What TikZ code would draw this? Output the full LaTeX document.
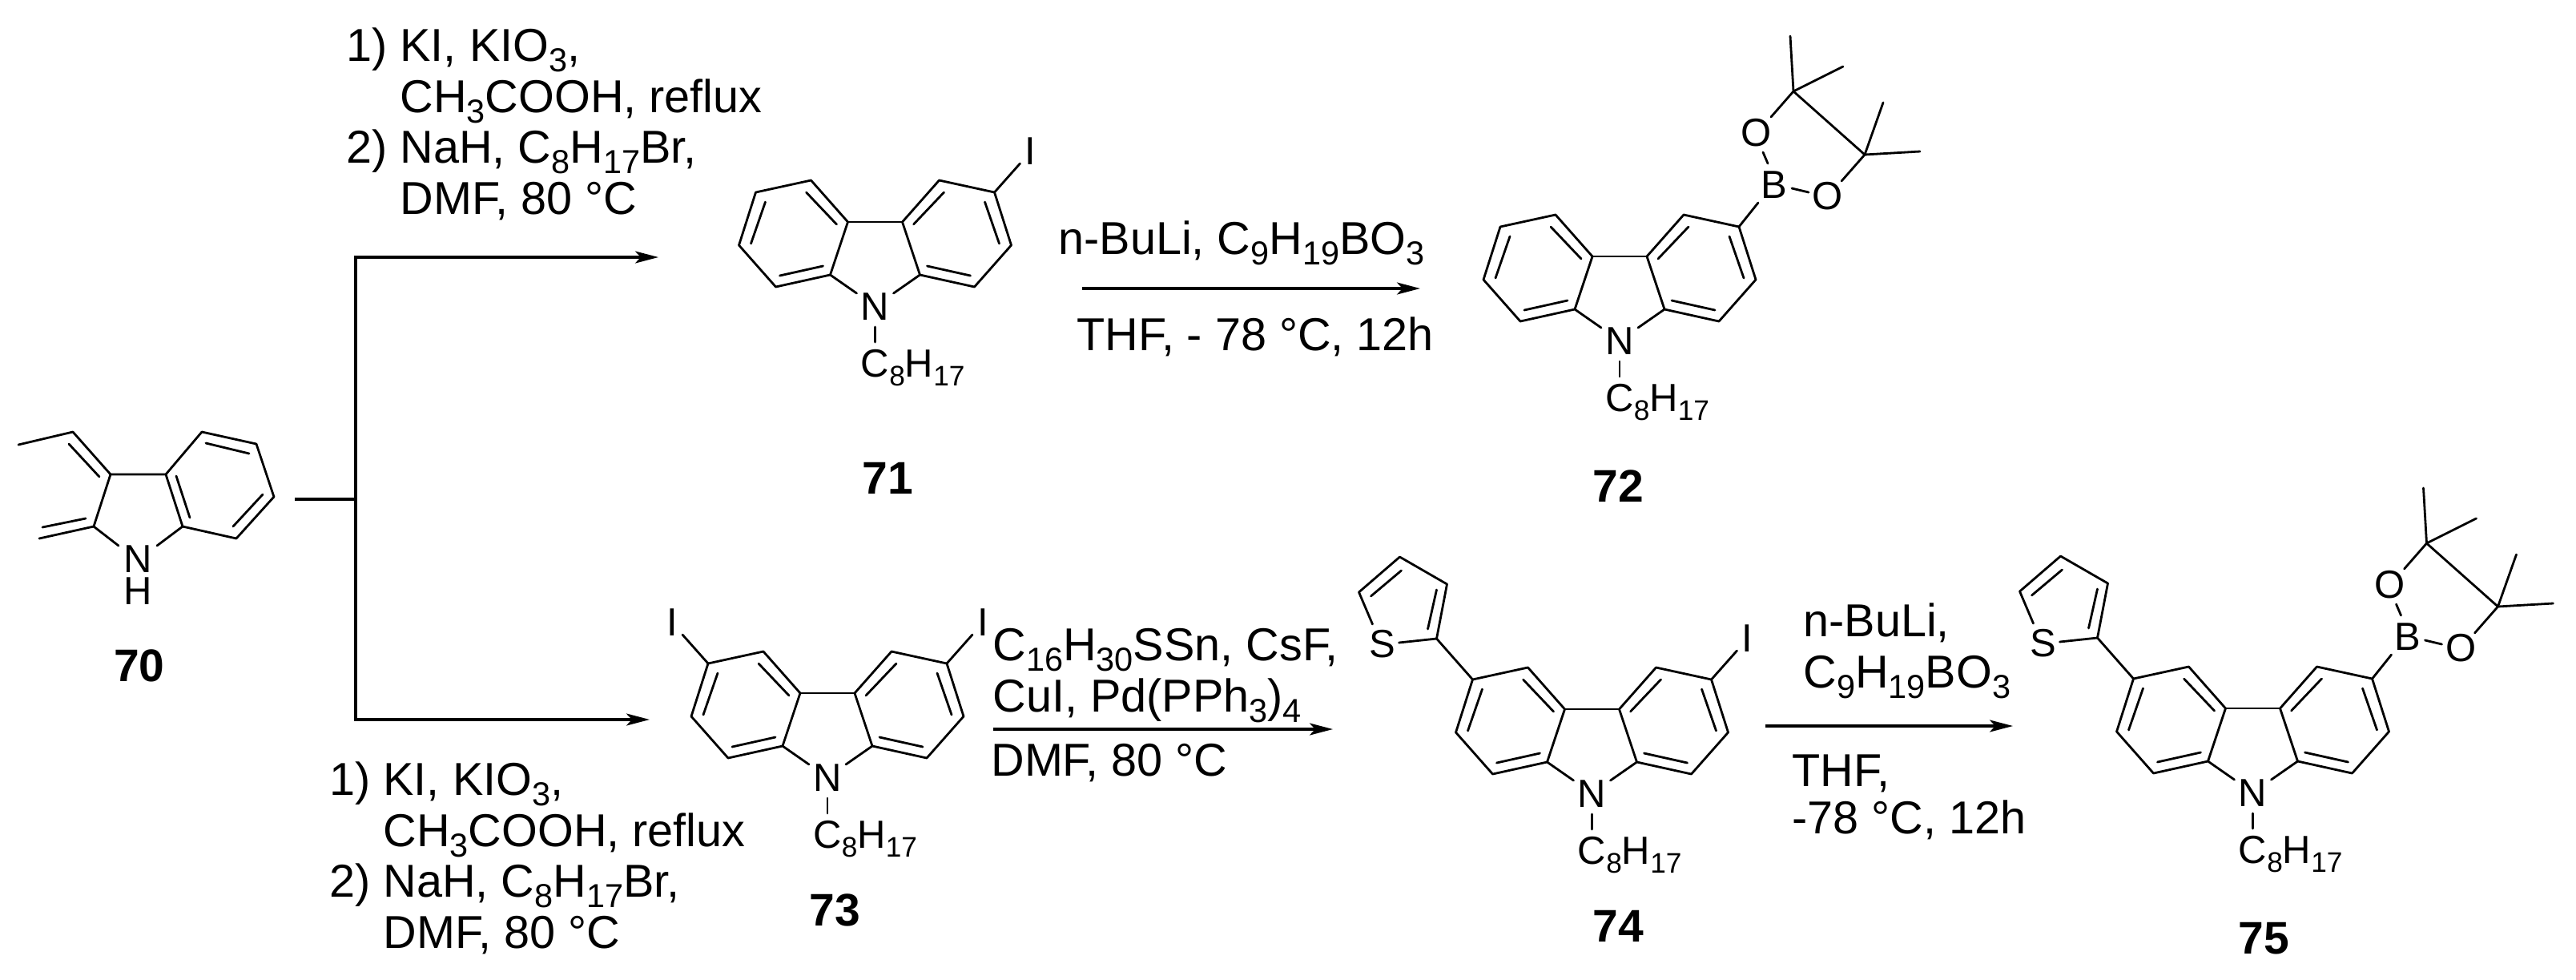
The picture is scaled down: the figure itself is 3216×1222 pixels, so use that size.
\documentclass[tikz,border=0pt]{standalone}
\usepackage{fontspec}
\usepackage{graphicx}
\setmainfont{Liberation Sans}
\usetikzlibrary{arrows.meta}
\newcommand{\chsub}[1]{\raisebox{-.23em}{\scalebox{.72}{#1}}}
\newcommand{\iodosteps}{1) KI, KIO\chsub{3},\\\hspace*{1.167em}CH\chsub{3}COOH, reflux\\2) NaH, C\chsub{8}H\chsub{17}Br,\\\hspace*{1.167em}DMF, 80 °C}
\tikzset{
  bond/.style={line width=1.4pt,line cap=round,line join=round},
  rxnline/.style={line width=1.7pt,>={Stealth[length=14.5pt,width=7.5pt,inset=3.5pt]}},
  atom/.style={inner sep=0pt,font=\fontsize{24.5}{20}\selectfont},
  reagent/.style={inner sep=0pt,anchor=base west,align=left,font=\fontsize{28.8}{31.75}\selectfont},
  cmpd/.style={inner sep=0pt,anchor=base,font=\fontsize{28.5}{32}\selectfont\bfseries}
}
% carbazole core with its octyl chain, origin at the middle of the 5-ring top bond
\newcommand{\carbazole}[1]{
  \foreach \s in {-1,1}{
    \draw[bond] (\s*23,89) -- (\s*56,66) -- (\s*34,0) -- (\s*80,-52) -- (\s*149,-37) -- (\s*170,29) -- (\s*124,81) -- (\s*56,66);
    \draw[bond] (\s*86,-37) -- (\s*48,3);
    \draw[bond] (\s*137,-25) -- (\s*155,27);
    \draw[bond] (\s*119,67) -- (\s*65,55);
  }
  \draw[bond] (-34,0) -- (34,0);
  \draw[bond] (0,131) -- (0,150);
  \node[atom] (N#1) at (0,106) {N};
  \node[atom,anchor=base west] (R#1) at (-18,193) {C\chsub{8}H\chsub{17}};
}
\newcommand{\iodo}[2]{
  \draw[bond] (#1*149,-37) -- (#1*181,-73);
  \node[atom] (I#2) at (#1*194,-88) {I};
}
\newcommand{\pinacol}[1]{
  \draw[bond] (149,-37) -- (173,-67);
  \node[atom] (B#1) at (193,-89) {B};
  \node[atom] (Oa#1) at (171,-154) {O};
  \node[atom] (Ob#1) at (260,-75) {O};
  \draw[bond] (185,-116) -- (179,-130);
  \draw[bond] (215,-85) -- (236,-80);
  \draw[bond] (189,-174) -- (217,-206) -- (306,-127) -- (277,-94);
  \draw[bond] (217,-206) -- (213,-275);
  \draw[bond] (217,-206) -- (279,-237);
  \draw[bond] (306,-127) -- (329,-192);
  \draw[bond] (306,-127) -- (375,-131);
}
\newcommand{\thienyl}[1]{
  \draw[bond] (-149,-37) -- (-194,-88);
  \begin{scope}[shift={(-194,-88)}]
    \draw[bond] (-47,5) -- (0,0) -- (13,-68) -- (-46,-102) -- (-97,-58) -- (-80,-18);
    \draw[bond] (0,-61) -- (-11,-12);
    \draw[bond] (-44,-85) -- (-82,-53);
    \node[atom] (S#1) at (-68,7) {S};
  \end{scope}
}
\begin{document}
\begin{tikzpicture}[x=0.5pt,y=-0.5pt]
  \useasboundingbox (0,0) rectangle (3216,1222);
  % 70
  \draw[bond] (23,555) -- (91,539) -- (138,592) -- (207,592) -- (252,539) -- (320,554) -- (342,620) -- (295,672) -- (228,657) -- (207,592);
  \draw[bond] (138,592) -- (117,657) -- (49,672);
  \draw[bond] (117,657) -- (148,681);
  \draw[bond] (228,657) -- (196,681);
  \draw[bond] (86,554) -- (124,595);
  \draw[bond] (53,658) -- (107,647);
  \draw[bond] (220,594) -- (237,646);
  \draw[bond] (257,553) -- (311,566);
  \draw[bond] (291,657) -- (328,617);
  \node[atom,align=center] (N70) at (172,718) {N\\H};
  \node[cmpd] (c70) at (174,850) {70};
  % 71
  \begin{scope}[shift={(1092.5,277)}]
    \carbazole{71}
    \iodo{1}{71}
  \end{scope}
  \node[cmpd] (c71) at (1108,616) {71};
  % 72
  \begin{scope}[shift={(2022,320)}]
    \carbazole{72}
    \pinacol{72}
  \end{scope}
  \node[cmpd] (c72) at (2020,626) {72};
  % 73
  \begin{scope}[shift={(1033,865)}]
    \carbazole{73}
    \iodo{1}{73}
    \iodo{-1}{73b}
  \end{scope}
  \node[cmpd] (c73) at (1042,1155) {73};
  % 74
  \begin{scope}[shift={(1987.5,885)}]
    \carbazole{74}
    \iodo{1}{74}
    \thienyl{74}
  \end{scope}
  \node[cmpd] (c74) at (2020,1175) {74};
  % 75
  \begin{scope}[shift={(2812.5,884)}]
    \carbazole{75}
    \pinacol{75}
    \thienyl{75}
  \end{scope}
  \node[cmpd] (c75) at (2826,1190) {75};
  % branch from 70
  \coordinate (stub) at (368,623);
  \coordinate (fork) at (444,623);
  \coordinate (to71) at (822,321);
  \coordinate (to73) at (811,898);
  \draw[rxnline] (stub) -- (fork);
  \draw[rxnline,->] (fork) |- (to71);
  \draw[rxnline,->] (fork) |- (to73);
  \node[reagent] (upper) at (432,267) {\iodosteps};
  \node[reagent] (lower) at (411,1183) {\iodosteps};
  % 71 to 72
  \coordinate (a72) at (1351,360);
  \coordinate (b72) at (1773,360);
  \draw[rxnline,->] (a72) -- (b72);
  \node[reagent] (top72) at (1321,317) {n-BuLi, C\chsub{9}H\chsub{19}BO\chsub{3}};
  \node[reagent] (bot72) at (1344,437) {THF, - 78 °C, 12h};
  % 73 to 74
  \coordinate (a74) at (1240,910);
  \coordinate (b74) at (1664,910);
  \draw[rxnline,->] (a74) -- (b74);
  \node[reagent] (top74) at (1239,888) {C\chsub{16}H\chsub{30}SSn, CsF,\\CuI, Pd(PPh\chsub{3})\chsub{4}};
  \node[reagent] (bot74) at (1237,968) {DMF, 80 °C};
  % 74 to 75
  \coordinate (a75) at (2204,906);
  \coordinate (b75) at (2513,906);
  \draw[rxnline,->] (a75) -- (b75);
  \node[reagent] (top75) at (2251,858) {n-BuLi,\\C\chsub{9}H\chsub{19}BO\chsub{3}};
  \node[reagent] (bot75) at (2237,1040) {THF,\\[-2.5pt]-78 °C, 12h};
\end{tikzpicture}
\end{document}
